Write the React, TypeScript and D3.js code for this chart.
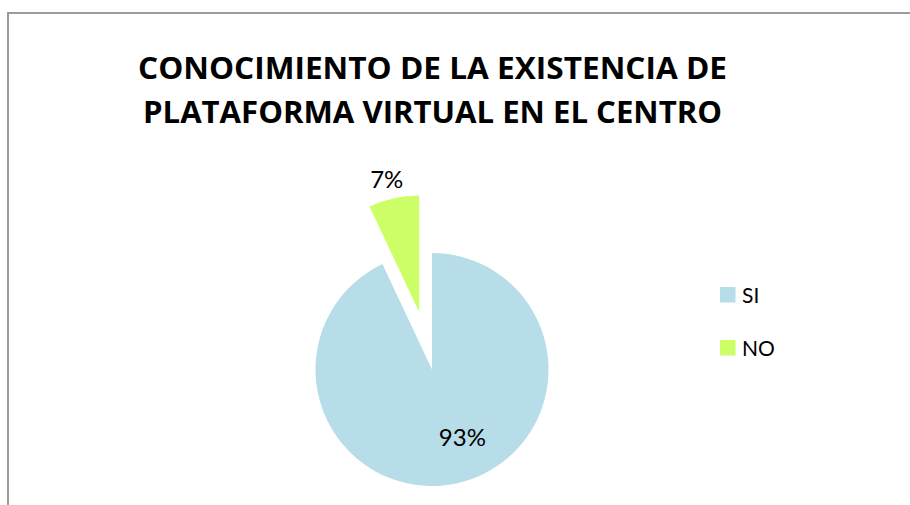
import React from "react";
import * as d3 from "d3";

const categories = ["SI", "NO"];
const values = [93, 7];
const percentLabels = ["93%", "7%"];
const colors = ["#B7DDE8", "#CCFF66"];
const titleLines = ["CONOCIMIENTO DE LA EXISTENCIA DE", "PLATAFORMA VIRTUAL EN EL CENTRO"];

const W = 910;
const H = 505;
const FONT = "Lato, 'Open Sans', sans-serif";
const TITLE_FONT = "'Open Sans', Lato, sans-serif";

export default function App() {
  const cx = 432;
  const cy = 369.5;
  const r = 116.5;
  const explode = [0, 59];

  const pie = d3
    .pie<number>()
    .sort(null)
    .startAngle(0)
    .endAngle(2 * Math.PI)
    .value((d) => d);
  const arcs = pie(values);
  const arcGen = d3.arc<d3.PieArcDatum<number>>().innerRadius(0).outerRadius(r);

  const offsets = arcs.map((a, i) => {
    const mid = (a.startAngle + a.endAngle) / 2;
    return [Math.sin(mid) * explode[i], -Math.cos(mid) * explode[i]];
  });

  const labelRadius = [0.64, 1.17];
  const labelAngleShift = [-0.2, -0.02];

  const legendX = 720;
  const legendY0 = 287;
  const legendStep = 53;
  const sq = 15.5;

  return (
    <svg
      width={W}
      height={H}
      style={{ position: "absolute", left: 0, top: 0, background: "#fff" }}
    >
      <rect x={0} y={0} width={W} height={H} fill="#fff" />
      <rect x={8} y={13} width={W + 20} height={H + 20} fill="#fff" stroke="#9c9c9c" strokeWidth={2} />

      {titleLines.map((t, i) => (
        <text
          key={i}
          x={432.5}
          y={78.5 + i * 44.5}
          textAnchor="middle"
          fontFamily={TITLE_FONT}
          fontWeight={700}
          fontSize={29.5}
          fill="#000"
          textLength={i === 0 ? 589 : 579}
          lengthAdjust="spacingAndGlyphs"
        >
          {t}
        </text>
      ))}

      {arcs.map((a, i) => (
        <path
          key={categories[i]}
          d={arcGen(a) || ""}
          fill={colors[i]}
          transform={`translate(${cx + offsets[i][0]},${cy + offsets[i][1]})`}
        />
      ))}

      {arcs.map((a, i) => {
        const mid = (a.startAngle + a.endAngle) / 2 + labelAngleShift[i];
        const lr = r * labelRadius[i];
        const x = cx + offsets[i][0] + Math.sin(mid) * lr;
        const y = cy + offsets[i][1] - Math.cos(mid) * lr;
        return (
          <text
            key={"l" + i}
            x={x}
            y={y}
            dy="0.36em"
            textAnchor="middle"
            fontFamily={FONT}
            fontSize={24}
            fill="#000"
          >
            {percentLabels[i]}
          </text>
        );
      })}

      {categories.map((c, i) => (
        <g key={"lg" + c}>
          <rect x={legendX} y={legendY0 + i * legendStep} width={sq} height={sq} fill={colors[i]} />
          <text
            x={legendX + 22}
            y={legendY0 + i * legendStep + sq}
            fontFamily={FONT}
            fontSize={21}
            fill="#000"
          >
            {c}
          </text>
        </g>
      ))}
    </svg>
  );
}
